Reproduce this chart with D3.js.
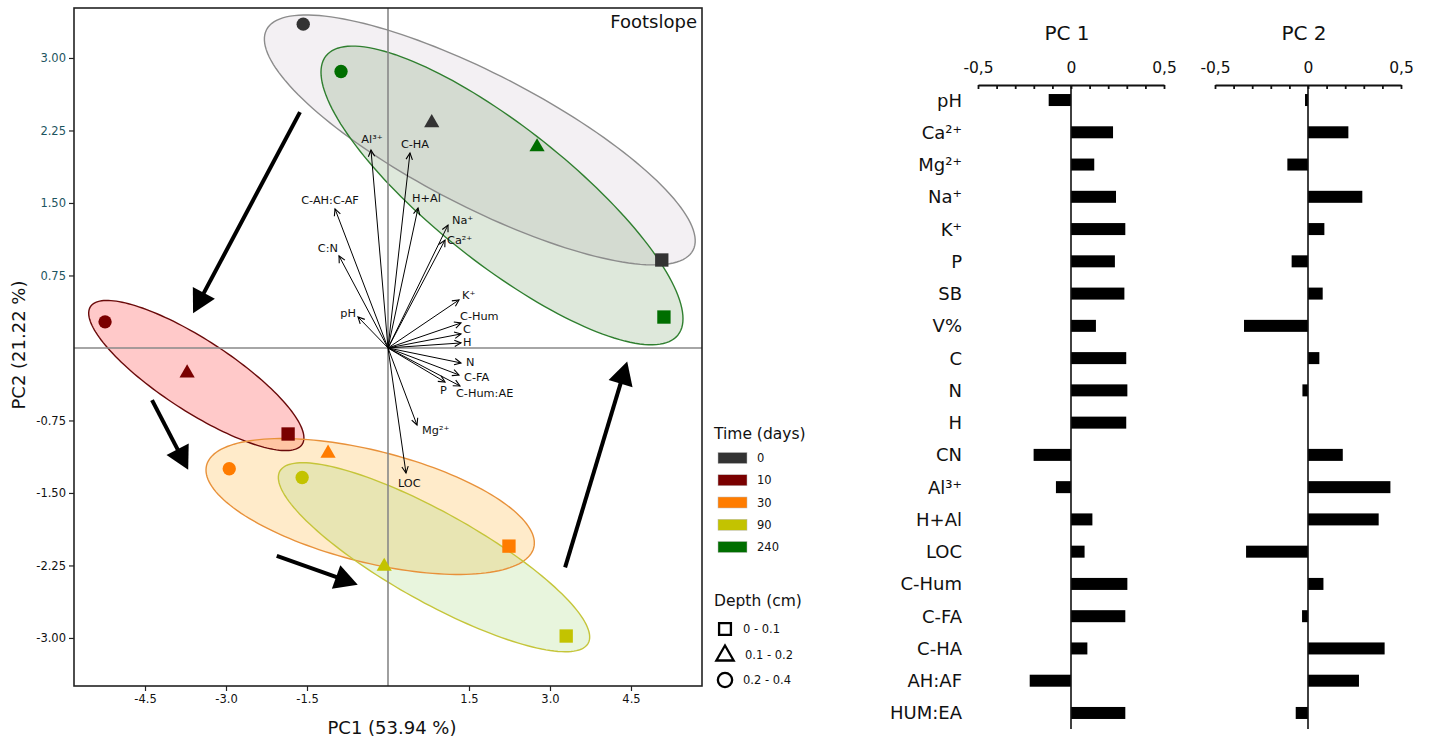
<!DOCTYPE html>
<html><head><meta charset="utf-8">
<script src="https://cdn.jsdelivr.net/npm/d3@7"></script>
<style>body{margin:0;background:#fff}svg{display:block;font-family:"DejaVu Sans",sans-serif}</style>
</head><body><svg id="c" width="1430" height="742"></svg>
<script>
// ---------- DATA ----------
const timeLevels = ["0","10","30","90","240"];
const depthLevels = ["0 - 0.1","0.1 - 0.2","0.2 - 0.4"];
const depthShapes = ["square","triangle","circle"];

const sampleTime  = ["0","0","0","10","10","10","30","30","30","90","90","90","240","240","240"];
const sampleDepth = ["0 - 0.1","0.1 - 0.2","0.2 - 0.4","0 - 0.1","0.1 - 0.2","0.2 - 0.4","0 - 0.1","0.1 - 0.2","0.2 - 0.4","0 - 0.1","0.1 - 0.2","0.2 - 0.4","0 - 0.1","0.1 - 0.2","0.2 - 0.4"];
const samplePC1 = [5.07, 0.81, -1.57, -1.85, -3.72, -5.24, 2.24, -1.11, -2.94, 3.30, -0.07, -1.59, 5.11, 2.76, -0.87];
const samplePC2 = [0.91, 2.33, 3.35, -0.89, -0.26, 0.27, -2.05, -1.09, -1.25, -2.98, -2.26, -1.34, 0.32, 2.08, 2.86];

// confidence ellipses: centre and two conjugate semi-axis vectors (data units)
const ellipseTime = ["0","240","10","30","90"];
const ellipseCX = [1.700, 2.111, -3.550, -0.330, 0.852];
const ellipseCY = [2.152, 1.578, -0.285, -1.640, -2.165];
const ellipseUX = [3.950, 3.260, 1.960, 3.030, 2.855];
const ellipseUY = [-1.140, -1.443, -0.712, -0.425, -0.890];
const ellipseVX = [-0.560, -0.780, -0.360, -0.250, -0.400];
const ellipseVY = [-0.610, -0.552, -0.310, -0.560, -0.405];

// loading vectors in the biplot
const loadNames = ["Al³⁺","C-HA","C-AH:C-AF","H+Al","Na⁺","Ca²⁺","C:N","pH","K⁺","C-Hum","C","H","N","C-FA","P","C-Hum:AE","Mg²⁺","LOC"];
const loadX = [-0.315, 0.407, -0.981, 0.556, 1.111, 1.056, -0.907, -0.556, 1.315, 1.352, 1.352, 1.352, 1.352, 1.315, 1.056, 1.333, 0.537, 0.333];
const loadY = [2.048, 2.017, 1.438, 1.448, 1.272, 1.117, 0.952, 0.321, 0.497, 0.259, 0.145, 0.052, -0.155, -0.279, -0.352, -0.393, -0.797, -1.293];

// trend arrows (data units): start x, start y, end x, end y
const trendX0 = [-1.63, -4.37, -2.06, 3.28];
const trendY0 = [2.44, -0.54, -2.15, -2.27];
const trendX1 = [-3.61, -3.70, -0.56, 4.43];
const trendY1 = [0.36, -1.26, -2.45, -0.14];

const xTicks = [-4.5, -3.0, -1.5, 1.5, 3.0, 4.5];
const yTicks = [3.00, 2.25, 1.50, 0.75, -0.75, -1.50, -2.25, -3.00];

// loading bar charts
const barVars = ["pH","Ca²⁺","Mg²⁺","Na⁺","K⁺","P","SB","V%","C","N","H","CN","Al³⁺","H+Al","LOC","C-Hum","C-FA","C-HA","AH:AF","HUM:EA"];
const barPC1 = [-0.120,0.226,0.125,0.242,0.292,0.236,0.287,0.134,0.297,0.303,0.297,-0.201,-0.081,0.115,0.073,0.303,0.292,0.088,-0.222,0.292];
const barPC2 = [-0.016,0.217,-0.111,0.292,0.088,-0.088,0.079,-0.344,0.061,-0.030,0.000,0.187,0.443,0.380,-0.333,0.083,-0.032,0.412,0.274,-0.066];
const barTicks = [-0.5, 0, 0.5];

// ---------- STYLE / LAYOUT ----------
const timeColor = {"0":"#333333","10":"#7a0000","30":"#ff7c00","90":"#c3c300","240":"#006e00"};
const ellStroke = {"0":"#8c8c8c","240":"#2f7f2f","10":"#6a0a0a","30":"#e8913a","90":"#c5c53a"};
const ellFill = {"0":"rgba(215,205,215,0.30)","240":"rgba(60,120,40,0.17)","10":"rgba(255,60,60,0.28)","30":"rgba(255,190,80,0.30)","90":"rgba(150,210,100,0.22)"};
// label offsets [dx, dy, anchor] relative to arrow tip (px)
const loadLabelPos = {
 "Al³⁺":[1,-7,"middle"],"C-HA":[5,-5,"middle"],"C-AH:C-AF":[-5,-5,"middle"],"H+Al":[-6,-6,"start"],
 "Na⁺":[4,-1,"start"],"Ca²⁺":[2,4,"start"],"C:N":[-1,-4,"end"],"pH":[-2,0,"end"],"K⁺":[3,-1,"start"],
 "C-Hum":[-1,-3,"start"],"C":[2,-1,"start"],"H":[2,3,"start"],"N":[5,3,"start"],"C-FA":[5,6,"start"],
 "P":[-5,12,"start"],"C-Hum:AE":[-4,11,"start"],"Mg²⁺":[5,9,"start"],"LOC":[-8,14,"start"]
};

const svg = d3.select("#c");
const hy = s => s.replace(/\u2212/g, "-");

// ---------- BIPLOT ----------
const x = d3.scaleLinear().domain([-5.815, 5.815]).range([74, 702]);
const y = d3.scaleLinear().domain([-3.497, 3.517]).range([686, 8]);
const bp = svg.append("g");

// ellipses
const ellLine = d3.line().x(d => x(d[0])).y(d => y(d[1])).curve(d3.curveLinearClosed);
const ellData = ellipseTime.map((t, i) => {
  const pts = d3.range(0, 160).map(k => {
    const a = k / 160 * 2 * Math.PI;
    return [ellipseCX[i] + ellipseUX[i]*Math.cos(a) + ellipseVX[i]*Math.sin(a),
            ellipseCY[i] + ellipseUY[i]*Math.cos(a) + ellipseVY[i]*Math.sin(a)];
  });
  return {t, pts};
});
bp.selectAll(".ef").data(ellData).join("path").attr("d", d => ellLine(d.pts))
  .attr("fill", d => ellFill[d.t]).attr("stroke", "none");
bp.selectAll(".es").data(ellData).join("path").attr("d", d => ellLine(d.pts))
  .attr("fill", "none").attr("stroke", d => ellStroke[d.t]).attr("stroke-width", 1.4);

// zero lines
bp.append("line").attr("x1", x(0)).attr("x2", x(0)).attr("y1", y.range()[1]).attr("y2", y.range()[0])
  .attr("stroke", "#888").attr("stroke-width", 1.6);
bp.append("line").attr("x1", x.range()[0]).attr("x2", x.range()[1]).attr("y1", y(0)).attr("y2", y(0))
  .attr("stroke", "#888").attr("stroke-width", 1.6);

// loading arrows
const defs = svg.append("defs");
defs.append("marker").attr("id", "va").attr("viewBox", "-8 -5 10 10").attr("refX", 0).attr("refY", 0)
  .attr("markerWidth", 10).attr("markerHeight", 10).attr("markerUnits", "userSpaceOnUse").attr("orient", "auto")
  .append("path").attr("d", "M-6.5,-3.2 L0,0 L-6.5,3.2").attr("fill", "none").attr("stroke", "#000").attr("stroke-width", 1.1);
const lg = bp.append("g");
loadNames.forEach((n, i) => {
  lg.append("line").attr("x1", x(0)).attr("y1", y(0)).attr("x2", x(loadX[i])).attr("y2", y(loadY[i]))
    .attr("stroke", "#000").attr("stroke-width", 1).attr("marker-end", "url(#va)");
  const p = loadLabelPos[n];
  lg.append("text").attr("x", x(loadX[i]) + p[0]).attr("y", y(loadY[i]) + p[1]).attr("text-anchor", p[2])
    .attr("font-size", 11.3).attr("fill", "#111").text(n);
});

// samples
const symType = {square: d3.symbolSquare, triangle: d3.symbolTriangle, circle: d3.symbolCircle};
const symSize = {square: 178, triangle: 100, circle: 140};
sampleTime.forEach((t, i) => {
  const sh = depthShapes[depthLevels.indexOf(sampleDepth[i])];
  bp.append("path").attr("d", d3.symbol(symType[sh], symSize[sh])())
    .attr("transform", `translate(${x(samplePC1[i])},${y(samplePC2[i])})`)
    .attr("fill", timeColor[t]);
});

// trend arrows
trendX0.forEach((_, i) => {
  const xa = x(trendX0[i]), ya = y(trendY0[i]), xb = x(trendX1[i]), yb = y(trendY1[i]);
  const L = Math.hypot(xb - xa, yb - ya), ux = (xb - xa) / L, uy = (yb - ya) / L;
  const hl = 23, hw = 12.5;
  const bx = xb - ux * hl, by = yb - uy * hl;
  bp.append("line").attr("x1", xa).attr("y1", ya).attr("x2", bx + ux*2).attr("y2", by + uy*2)
    .attr("stroke", "#000").attr("stroke-width", 4);
  bp.append("path").attr("d", `M${xb},${yb} L${bx - uy*hw},${by + ux*hw} L${bx + uy*hw},${by - ux*hw} Z`).attr("fill", "#000");
});

// frame
bp.append("rect").attr("x", x.range()[0]).attr("y", y.range()[1]).attr("width", x.range()[1] - x.range()[0])
  .attr("height", y.range()[0] - y.range()[1]).attr("fill", "none").attr("stroke", "#222").attr("stroke-width", 1.6);

// axes
const xa = bp.append("g").attr("transform", `translate(0,${y.range()[0]})`)
  .call(d3.axisBottom(x).tickValues(xTicks).tickSize(5).tickSizeOuter(0).tickPadding(4).tickFormat(d => hy(d3.format(".1f")(d))));
xa.select(".domain").remove();
xa.selectAll("text").attr("font-size", 11.5).attr("fill", "#111").attr("font-family", "DejaVu Sans");
xa.selectAll("line").attr("stroke", "#222").attr("stroke-width", 1.2);
const ya = bp.append("g").attr("transform", `translate(${x.range()[0]},0)`)
  .call(d3.axisLeft(y).tickValues(yTicks).tickSize(5).tickSizeOuter(0).tickPadding(3).tickFormat(d => hy(d3.format(".2f")(d))));
ya.select(".domain").remove();
ya.selectAll("text").attr("font-size", 11.5).attr("font-family", "DejaVu Sans").attr("fill", d => d > 0 ? "#1d5560" : "#111");
ya.selectAll("line").attr("stroke", "#222").attr("stroke-width", 1.2);

svg.append("text").attr("x", 392).attr("y", 734).attr("text-anchor", "middle").attr("font-size", 18).attr("fill", "#111").text("PC1 (53.94 %)");
svg.append("text").attr("transform", "translate(25,345) rotate(-90)").attr("text-anchor", "middle").attr("font-size", 18).attr("fill", "#111").text("PC2 (21.22 %)");
svg.append("text").attr("x", 697).attr("y", 28).attr("text-anchor", "end").attr("font-size", 18).attr("fill", "#111").text("Footslope");

// legend
const leg = svg.append("g");
leg.append("text").attr("x", 714).attr("y", 439).attr("font-size", 15.5).attr("fill", "#111").text("Time (days)");
const legRowY = d3.scalePoint().domain(timeLevels).range([458, 547]);
timeLevels.forEach(t => {
  leg.append("rect").attr("x", 718).attr("y", legRowY(t) - 5.5).attr("width", 29).attr("height", 11).attr("fill", timeColor[t])
    .attr("stroke", "#bbb").attr("stroke-width", 0.5);
  leg.append("text").attr("x", 757).attr("y", legRowY(t) + 4).attr("font-size", 11.5).attr("fill", "#111").text(t);
});
leg.append("text").attr("x", 714).attr("y", 606).attr("font-size", 15.5).attr("fill", "#111").text("Depth (cm)");
const depRowY = d3.scalePoint().domain(depthLevels).range([629, 680]);
const legSymSize = {square: 140, triangle: 130, circle: 160};
depthLevels.forEach((dl, i) => {
  const sh = depthShapes[i];
  leg.append("path").attr("d", d3.symbol(symType[sh], legSymSize[sh])())
    .attr("transform", `translate(725,${depRowY(dl) + (sh === "triangle" ? 1 : 0)})`)
    .attr("fill", "none").attr("stroke", "#000").attr("stroke-width", 2.3);
  leg.append("text").attr("x", sh === "triangle" ? 745 : 743).attr("y", depRowY(dl) + 4).attr("font-size", 11.5).attr("fill", "#111").text(dl);
});

// ---------- BAR CHARTS ----------
const yb = d3.scaleBand().domain(barVars).range([84, 729]).paddingInner(0.628).paddingOuter(0.311);
const panels = [
  {title: "PC 1", vals: barPC1, range: [978, 1164]},
  {title: "PC 2", vals: barPC2, range: [1215, 1401]}
];
const commaFmt = d => d === 0 ? "0" : hy(d3.format(".1f")(d)).replace(".", ",");
panels.forEach(p => {
  const xs = d3.scaleLinear().domain([-0.5, 0.5]).range(p.range);
  const g = svg.append("g");
  g.selectAll("rect").data(p.vals).join("rect")
    .attr("x", d => Math.min(xs(0), xs(d))).attr("width", d => Math.abs(xs(d) - xs(0)))
    .attr("y", (d, i) => yb(barVars[i])).attr("height", yb.bandwidth()).attr("fill", "#000");
  g.append("line").attr("x1", xs(0)).attr("x2", xs(0)).attr("y1", 85).attr("y2", 729).attr("stroke", "#111").attr("stroke-width", 1.6);
  const ax = g.append("g").attr("transform", "translate(0,85)")
    .call(d3.axisBottom(xs).tickValues(d3.range(-5, 6).map(k => k / 10)).tickSize(4).tickSizeOuter(0).tickFormat(""));
  ax.select(".domain").attr("stroke", "#111").attr("stroke-width", 2.2);
  ax.selectAll(".tick line").attr("stroke", "#111").attr("stroke-width", 1.8);
  const ax2 = g.append("g").attr("transform", "translate(0,85)")
    .call(d3.axisTop(xs).tickValues(barTicks).tickSize(0).tickPadding(12).tickFormat(commaFmt));
  ax2.select(".domain").remove();
  ax2.selectAll("text").attr("font-size", 15.5).attr("font-family", "DejaVu Sans").attr("fill", "#111");
  g.append("text").attr("x", xs(0) - 4).attr("y", 40).attr("text-anchor", "middle").attr("font-size", 20).attr("fill", "#111").text(p.title);
});
// row labels
svg.append("g").selectAll("text").data(barVars).join("text")
  .attr("x", 962).attr("y", d => yb(d) + yb.bandwidth() / 2 + 6.5).attr("text-anchor", "end")
  .attr("font-size", 18).attr("fill", "#111").text(d => d);
</script></body></html>
